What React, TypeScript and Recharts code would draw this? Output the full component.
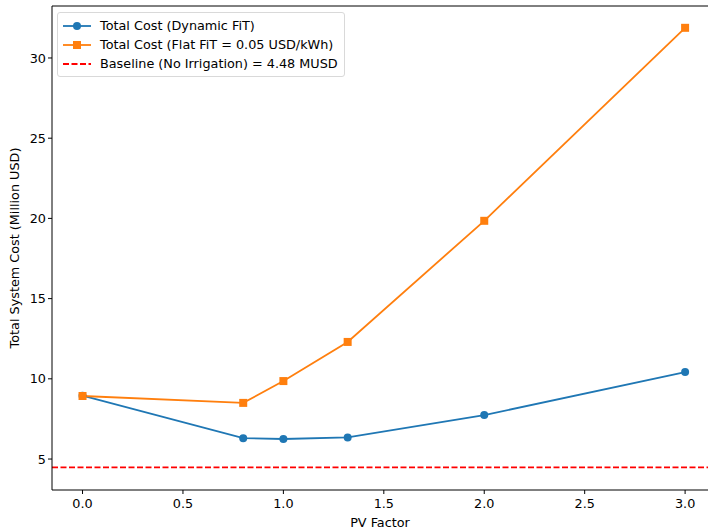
import React from "react";
import {
  Line,
  LineChart,
  ReferenceLine,
  XAxis,
  YAxis,
} from "recharts";

const pvFactors = [0, 0.8, 1.0, 1.32, 2.0, 3.0];
const dynamicCost = [8.95, 6.3, 6.25, 6.35, 7.74, 10.42];
const flatCost = [8.93, 8.5, 9.86, 12.3, 19.85, 31.88];
const baselineCost = 4.48;
const xTicks = [0, 0.5, 1.0, 1.5, 2.0, 2.5, 3.0];
const yTicks = [5, 10, 15, 20, 25, 30];

const BLUE = "#1f77b4";
const ORANGE = "#ff7f0e";
const RED = "#ff0000";
const FONT = "'DejaVu Sans', sans-serif";

const data = pvFactors.map((x, i) => ({
  x,
  dynamic: dynamicCost[i],
  flat: flatCost[i],
}));

function SquareDot(props: any) {
  const { cx, cy, index } = props;
  if (cx == null || cy == null) return null;
  return <rect key={`sq-${index}`} x={cx - 4} y={cy - 4} width={8} height={8} fill={ORANGE} />;
}

// legend drawn as an overlay so it doesn't eat into the plot area
function LegendBox() {
  const rows = [
    { label: "Total Cost (Dynamic FiT)", kind: "circle", color: BLUE },
    { label: "Total Cost (Flat FiT = 0.05 USD/kWh)", kind: "square", color: ORANGE },
    { label: "Baseline (No Irrigation) = 4.48 MUSD", kind: "dash", color: RED },
  ];
  return (
    <div
      style={{
        position: "absolute",
        left: 57,
        top: 12,
        border: "1px solid #d9d9d9",
        borderRadius: 3,
        background: "rgba(255,255,255,0.85)",
        padding: "3px 6px 3px 5px",
        fontFamily: FONT,
        fontSize: 12.8,
        color: "#000",
      }}
    >
      {rows.map((r) => (
        <div key={r.label} style={{ display: "flex", alignItems: "center", height: 19 }}>
          <svg width={28} height={12} style={{ marginRight: 9 }}>
            <line
              x1={0}
              x2={28}
              y1={6}
              y2={6}
              stroke={r.color}
              strokeWidth={1.8}
              strokeDasharray={r.kind === "dash" ? "6 2.5" : undefined}
            />
            {r.kind === "circle" && <circle cx={14} cy={6} r={4} fill={r.color} />}
            {r.kind === "square" && <rect x={10} y={2} width={8} height={8} fill={r.color} />}
          </svg>
          <span>{r.label}</span>
        </div>
      ))}
    </div>
  );
}

export default function App() {
  return (
    <div style={{ position: "relative", width: 708, height: 530, background: "#fff" }}>
      <style>{"body{margin:0;}"}</style>
      <LineChart
        width={708}
        height={530}
        data={data}
        margin={{ top: 6, right: 0, bottom: 0, left: 0 }}
        style={{ fontFamily: FONT }}
      >
        <XAxis
          type="number"
          dataKey="x"
          domain={[-0.152, 3.114]}
          ticks={xTicks}
          allowDataOverflow
          tickFormatter={(v) => Number(v).toFixed(1)}
          tick={{ fontSize: 12.8, fill: "#000", dy: 3 }}
          tickSize={4}
          axisLine={{ stroke: "#000" }}
          tickLine={{ stroke: "#000" }}
          height={40}
          label={{ value: "PV Factor", position: "insideBottom", offset: 3, fontSize: 12.8, fill: "#000" }}
        />
        <YAxis
          type="number"
          domain={[3.07, 33.24]}
          ticks={yTicks}
          allowDataOverflow
          tick={{ fontSize: 12.8, fill: "#000" }}
          tickSize={4}
          axisLine={{ stroke: "#000" }}
          tickLine={{ stroke: "#000" }}
          width={52}
          label={{
            value: "Total System Cost (Million USD)",
            angle: -90,
            position: "insideLeft",
            offset: 14,
            style: { textAnchor: "middle" },
            fontSize: 12.8,
            fill: "#000",
          }}
        />
        <ReferenceLine y={33.24} stroke="#000" />
        <ReferenceLine y={baselineCost} stroke={RED} strokeWidth={1.8} strokeDasharray="6 2.5" />
        <Line
          dataKey="dynamic"
          stroke={BLUE}
          strokeWidth={1.8}
          dot={{ r: 4, fill: BLUE, stroke: BLUE, strokeWidth: 0 }}
          isAnimationActive={false}
        />
        <Line
          dataKey="flat"
          stroke={ORANGE}
          strokeWidth={1.8}
          dot={SquareDot}
          isAnimationActive={false}
        />
      </LineChart>
      <LegendBox />
    </div>
  );
}
